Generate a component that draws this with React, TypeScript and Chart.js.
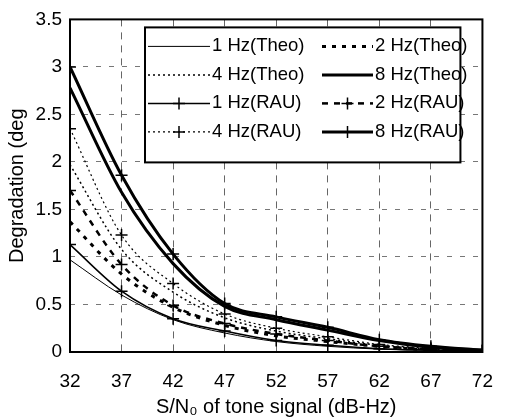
import React, { useEffect, useRef } from "react";
import { Chart, registerables } from "chart.js";

Chart.register(...registerables);

const snr = [32, 37, 42, 47, 52, 57, 62, 67, 72];
const theo1 = [0.97, 0.6, 0.34, 0.2, 0.11, 0.06, 0.03, 0.015, 0.005];
const theo2 = [1.37, 0.82, 0.47, 0.28, 0.17, 0.11, 0.06, 0.02, 0.01];
const theo4 = [1.97, 1.08, 0.63, 0.36, 0.22, 0.14, 0.07, 0.03, 0.01];
const theo8 = [2.78, 1.68, 0.93, 0.48, 0.34, 0.23, 0.12, 0.05, 0.02];
const rau1 = [1.13, 0.64, 0.35, 0.22, 0.12, 0.07, 0.035, 0.02, 0.01];
const rau2 = [1.7, 0.92, 0.49, 0.3, 0.19, 0.12, 0.06, 0.03, 0.01];
const rau4 = [2.35, 1.23, 0.72, 0.4, 0.25, 0.16, 0.08, 0.04, 0.01];
const rau8 = [3.0, 1.86, 1.03, 0.51, 0.37, 0.26, 0.13, 0.06, 0.02];
const labels = [
  "1 Hz(Theo)", "2 Hz(Theo)", "4 Hz(Theo)", "8 Hz(Theo)",
  "1 Hz(RAU)", "2 Hz(RAU)", "4 Hz(RAU)", "8 Hz(RAU)",
];
const yTitle = "Degradation (deg";
const xTitle = "S/N\u2080 of tone signal (dB-Hz)";

const FONT = "'Liberation Sans', Arial, sans-serif";

const toPts = (arr: number[]) => arr.map((v, i) => ({ x: snr[i], y: v }));

const styles = [
  { w: 1, dash: [] as number[], marker: false },
  { w: 3, dash: [4, 6], marker: false },
  { w: 1.5, dash: [2, 3], marker: false },
  { w: 3, dash: [], marker: false },
  { w: 1.5, dash: [], marker: true },
  { w: 2.5, dash: [6, 6], marker: true },
  { w: 1.2, dash: [2, 3], marker: true },
  { w: 3, dash: [], marker: true },
];

const frame = {
  id: "frame",
  afterDatasetsDraw(chart: any) {
    const { ctx, chartArea: a } = chart;
    ctx.save();
    ctx.strokeStyle = "#000";
    ctx.lineWidth = 2;
    ctx.setLineDash([]);
    ctx.strokeRect(a.left, a.top, a.right - a.left, a.bottom - a.top);
    ctx.restore();
  },
};

const boxLegend = {
  id: "boxLegend",
  afterDraw(chart: any) {
    const { ctx, chartArea: a } = chart;
    const left = a.left + 75;
    const top = a.top + 8;
    const right = a.right - 22;
    const bottom = a.top + 143;
    ctx.save();
    ctx.fillStyle = "#fff";
    ctx.fillRect(left, top, right - left, bottom - top);
    ctx.strokeStyle = "#000";
    ctx.lineWidth = 2;
    ctx.setLineDash([]);
    ctx.strokeRect(left, top, right - left, bottom - top);
    chart.data.datasets.forEach((ds: any, i: number) => {
      const row = Math.floor(i / 2);
      const col = i % 2;
      const y = top + 19 + row * 28.5;
      const x0 = col === 0 ? left + 3 : left + 177;
      const x1 = col === 0 ? left + 65 : left + 228;
      ctx.strokeStyle = "#000";
      ctx.lineWidth = ds.borderWidth;
      ctx.setLineDash(ds.borderDash || []);
      ctx.beginPath();
      ctx.moveTo(x0, y);
      ctx.lineTo(x1, y);
      ctx.stroke();
      if (ds.pointRadius > 0) {
        const mx = (x0 + x1) / 2;
        ctx.setLineDash([]);
        ctx.lineWidth = 1.5;
        ctx.beginPath();
        ctx.moveTo(mx - 6, y);
        ctx.lineTo(mx + 6, y);
        ctx.moveTo(mx, y - 6);
        ctx.lineTo(mx, y + 6);
        ctx.stroke();
      }
      ctx.fillStyle = "#000";
      ctx.font = `18.5px ${FONT}`;
      ctx.textBaseline = "middle";
      ctx.textAlign = "left";
      ctx.fillText(ds.label, x1 + 2, y);
    });
    ctx.restore();
  },
};

export default function App() {
  const ref = useRef<HTMLCanvasElement | null>(null);
  useEffect(() => {
    document.body.style.margin = "0";
    const all = [theo1, theo2, theo4, theo8, rau1, rau2, rau4, rau8];
    const chart = new Chart(ref.current!, {
      type: "line",
      data: {
        datasets: all.map((arr, i) => ({
          label: labels[i],
          data: toPts(arr),
          borderColor: "#000",
          backgroundColor: "#000",
          borderWidth: styles[i].w,
          borderDash: styles[i].dash,
          pointStyle: "cross",
          pointRadius: styles[i].marker ? 6 : 0,
          pointBorderWidth: 1.5,
          pointBorderColor: "#000",
          cubicInterpolationMode: "monotone",
          fill: false,
        })),
      },
      options: {
        animation: false,
        responsive: true,
        maintainAspectRatio: false,
        layout: { padding: { top: 15, right: 12, left: 0, bottom: 0 } },
        plugins: { legend: { display: false }, tooltip: { enabled: false } },
        scales: {
          x: {
            type: "linear",
            min: 32,
            max: 72,
            afterFit: (s: any) => { s.height = 68; },
            ticks: { stepSize: 5, color: "#000", padding: 18, font: { family: FONT, size: 19 } },
            grid: { color: "#666", lineWidth: 1, drawTicks: false },
            border: { display: false, dash: [7, 6] },
            title: {
              display: true,
              text: xTitle,
              color: "#000",
              font: { family: FONT, size: 20 },
              padding: { top: 0, bottom: 1 },
            },
          },
          y: {
            type: "linear",
            min: 0,
            max: 3.5,
            afterFit: (s: any) => { s.width = 70; },
            ticks: {
              stepSize: 0.5,
              color: "#000",
              padding: 8,
              font: { family: FONT, size: 19 },
              callback: (v: any) => `${Number(v)}`,
            },
            grid: { color: "#777", lineWidth: 1, drawTicks: false },
            border: { display: false, dash: [5, 8] },
            title: {
              display: true,
              text: yTitle,
              color: "#000",
              font: { family: FONT, size: 20 },
              padding: { top: 5, bottom: 0 },
            },
          },
        },
      },
      plugins: [frame, boxLegend],
    } as any);
    return () => chart.destroy();
  }, []);
  return (
    <div style={{ width: 511, height: 420, position: "relative" }}>
      <canvas ref={ref} />
    </div>
  );
}
